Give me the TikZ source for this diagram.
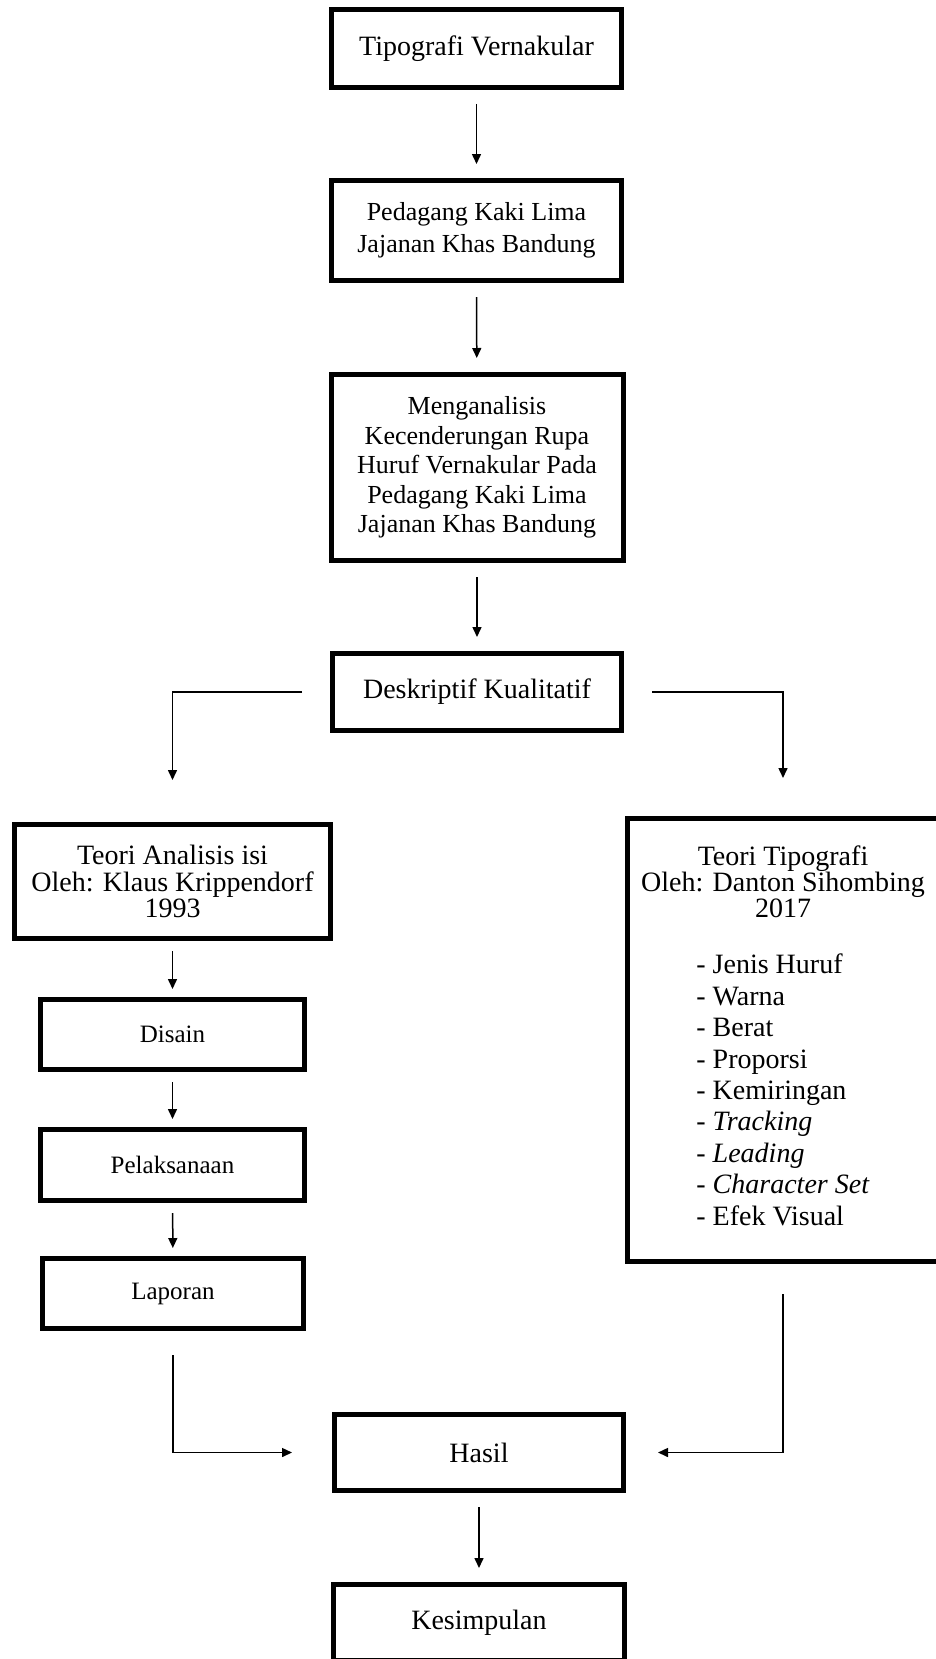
\documentclass[tikz,border=0pt]{standalone}
\usepackage{fontspec}
\setmainfont{Liberation Serif}
\usetikzlibrary{arrows.meta}
\renewcommand{\arraystretch}{1.19}

\begin{document}
\begin{tikzpicture}[x=0.5pt, y=-0.5pt,
  kotak/.style={draw, line width=2.5pt, align=center, inner sep=0pt, minimum width=145pt},
  teks/.style={font=\fontsize{14}{14}\selectfont},
  kecil/.style={font=\fontsize{12.5}{13}\selectfont},
  panah/.style={-{Triangle[length=5pt,width=4.5pt]}, line width=0.75pt, shorten <=7pt, shorten >=7pt}]
\useasboundingbox (0,0) rectangle (936,1659);

\node [kotak, teks, minimum height=39pt] (a1) at (476.5,48.5) {Tipografi Vernakular};
\node [kotak, font=\fontsize{13}{16}\selectfont, minimum height=50pt] (a2) at (476.5,230.5) {Pedagang Kaki Lima\\Jajanan Khas Bandung};
\node [kotak, font=\fontsize{13}{14.8}\selectfont, minimum width=146pt, minimum height=93pt] (a3) at (477,467.5) {Menganalisis\\Kecenderungan Rupa\\Huruf Vernakular Pada\\Pedagang Kaki Lima\\Jajanan Khas Bandung};
\node [kotak, teks, minimum width=144.5pt, minimum height=38.5pt] (a4) at (477,692) {Deskriptif Kualitatif};

\node [kotak, font=\fontsize{14}{13.3}\selectfont, minimum width=158pt, minimum height=57pt] (l1) at (172.5,881.5) {Teori Analisis isi\\Oleh: Klaus Krippendorf\\1993};
\node [kotak, kecil, minimum width=132pt, minimum height=35pt] (l2) at (172.5,1034.5) {Disain};
\node [kotak, kecil, minimum width=132pt, minimum height=35.5pt] (l3) at (172.5,1165) {Pelaksanaan};
\node [kotak, kecil, minimum width=130.5pt, minimum height=35pt] (l4) at (173,1293.5) {Laporan};

\node [kotak, font=\fontsize{14}{13.2}\selectfont, minimum width=155.5pt, minimum height=221.5pt] (r1) at (783,1040) {Teori Tipografi\\Oleh: Danton Sihombing\\2017\\[14.8pt]
  \begin{tabular}[t]{@{}l@{}}
  - Jenis Huruf\\
  - Warna\\
  - Berat\\
  - Proporsi\\
  - Kemiringan\\
  - \textit{Tracking}\\
  - \textit{Leading}\\
  - \textit{Character Set}\\
  - Efek Visual
  \end{tabular}};

\node [kotak, teks, minimum width=144.5pt, minimum height=38pt] (h) at (479,1452.5) {Hasil};
\node [kotak, teks, minimum width=145.5pt, minimum height=38pt] (k) at (479,1622.5) {Kesimpulan};

\draw[panah] (a1) -- (a2);
\draw[panah] (a2) -- (a3);
\draw[panah] (a3) -- (a4);
\draw[panah, shorten <=14pt, shorten >=21pt] (a4.west) -| (l1.north);
\draw[panah, shorten <=14pt, shorten >=19pt] (a4.east) -| (r1.north);
\draw[panah, shorten <=5pt, shorten >=4pt] (l1) -- (l2);
\draw[panah, shorten <=5pt, shorten >=4pt] (l2) -- (l3);
\draw[panah, shorten <=5pt, shorten >=4pt] (l3) -- (l4);
\draw[panah, shorten <=12pt, shorten >=20pt] (l4.south) |- (h.west);
\draw[panah, shorten <=15pt, shorten >=16pt] (r1.south) |- (h.east);
\draw[panah] (h) -- (k);
\end{tikzpicture}
\end{document}
